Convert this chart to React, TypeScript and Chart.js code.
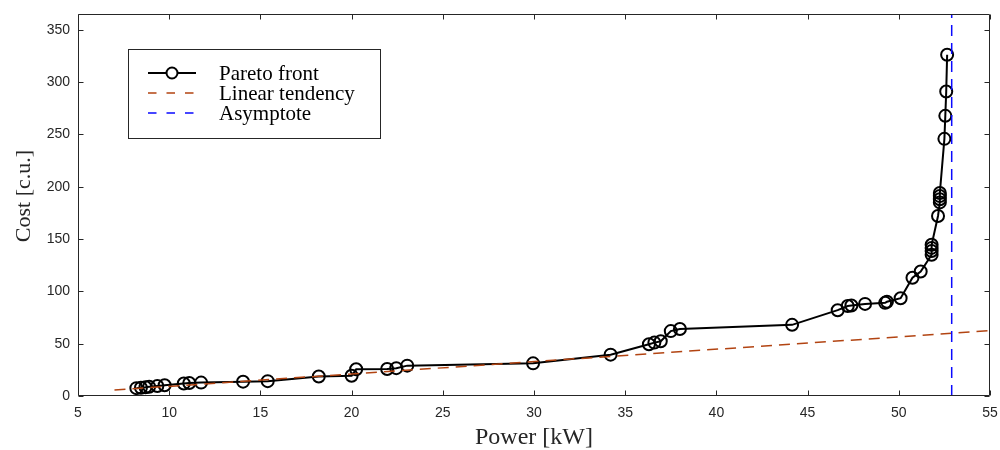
import { useEffect, useRef } from 'react';
import { Chart, registerables } from 'chart.js';

Chart.register(...registerables);

const power = [8.2, 8.45, 8.7, 8.9, 9.35, 9.75, 10.8, 11.1, 11.75, 14.05, 15.4, 18.2, 20.0, 20.25, 21.95, 22.45, 23.05, 29.95, 34.2, 36.3, 36.6, 36.95, 37.5, 38.0, 44.15, 46.65, 47.2, 47.4, 48.15, 49.25, 49.35, 50.1, 50.75, 51.2, 51.8, 51.8, 51.8, 51.8, 52.15, 52.25, 52.25, 52.25, 52.25, 52.5, 52.55, 52.6, 52.65];
const cost = [7.5, 7.9, 8.3, 8.8, 9.6, 10.3, 12.0, 12.4, 12.8, 13.7, 14.2, 18.6, 19.3, 25.5, 25.8, 26.6, 29.0, 31.2, 39.5, 49.4, 51.0, 52.3, 62.0, 64.0, 68.0, 82.0, 86.0, 86.5, 88.0, 89.0, 90.0, 93.4, 113.0, 119.0, 135.0, 138.5, 141.5, 144.5, 172.0, 185.0, 188.0, 191.0, 194.0, 245.7, 267.7, 291.0, 326.0];

const trendPower = [7, 55];
const trendCost = [5.7, 62.4];

const asymptotePower = [52.9, 52.9];
const asymptoteCost = [0, 365];

const xTicks = [5, 10, 15, 20, 25, 30, 35, 40, 45, 50, 55];
const yTicks = [0, 50, 100, 150, 200, 250, 300, 350];

const seriesLabels = ['Pareto front', 'Linear tendency', 'Asymptote'];
const xTitle = 'Power [kW]';
const yTitle = 'Cost [c.u.]';

const AXIS_COLOR = '#262626';
const TREND_COLOR = 'rgb(178,68,18)';
const ASYM_COLOR = 'rgb(10,10,255)';

const framePlugin = {
  id: 'frame',
  afterDraw(chart: any) {
    const { ctx, chartArea: a, scales } = chart;
    const L = Math.round(a.left) + 0.5;
    const R = Math.round(a.right) - 0.5;
    const T = Math.round(a.top) + 0.5;
    const B = Math.round(a.bottom) - 0.5;
    ctx.save();
    ctx.strokeStyle = AXIS_COLOR;
    ctx.lineWidth = 1;
    ctx.beginPath();
    ctx.rect(L, T, R - L, B - T);
    ctx.stroke();
    const tl = 5;
    ctx.beginPath();
    xTicks.forEach((v) => {
      const px = Math.round(scales.x.getPixelForValue(v)) + 0.5;
      ctx.moveTo(px, B);
      ctx.lineTo(px, B - tl);
      ctx.moveTo(px, T);
      ctx.lineTo(px, T + tl);
    });
    yTicks.forEach((v) => {
      const py = Math.round(scales.y.getPixelForValue(v)) + 0.5;
      ctx.moveTo(L, py);
      ctx.lineTo(L + tl, py);
      ctx.moveTo(R, py);
      ctx.lineTo(R - tl, py);
    });
    ctx.stroke();

    // axis titles
    ctx.fillStyle = AXIS_COLOR;
    ctx.textAlign = 'center';
    ctx.textBaseline = 'alphabetic';
    ctx.font = '24px "Liberation Serif"';
    ctx.fillText(xTitle, (a.left + a.right) / 2, 444);
    ctx.save();
    ctx.translate(30, 196);
    ctx.rotate(-Math.PI / 2);
    ctx.font = '22px "Liberation Serif"';
    ctx.fillText(yTitle, 0, 0);
    ctx.restore();

    // legend
    const bx = 128.5, by = 49.5, bw = 252, bh = 89;
    ctx.fillStyle = '#ffffff';
    ctx.fillRect(bx, by, bw, bh);
    ctx.strokeStyle = AXIS_COLOR;
    ctx.lineWidth = 1;
    ctx.strokeRect(bx, by, bw, bh);
    const rows = [73, 93, 113];
    const ds = chart.data.datasets;
    rows.forEach((ry, i) => {
      const d = ds[i];
      ctx.save();
      ctx.strokeStyle = d.borderColor;
      ctx.lineWidth = i === 0 ? 2 : 1.5;
      ctx.setLineDash(i === 0 ? [] : [8.5, 10]);
      ctx.beginPath();
      ctx.moveTo(148, ry);
      ctx.lineTo(196, ry);
      ctx.stroke();
      if (i === 0) {
        ctx.setLineDash([]);
        ctx.beginPath();
        ctx.arc(172, ry, 5.5, 0, Math.PI * 2);
        ctx.fillStyle = '#fff';
        ctx.fill();
        ctx.stroke();
      }
      ctx.restore();
      ctx.fillStyle = '#000';
      ctx.textAlign = 'left';
      ctx.textBaseline = 'middle';
      ctx.font = '21px "Liberation Serif"';
      ctx.fillText(d.label, 219, ry + 1);
    });
    ctx.restore();
  },
};

export default function App() {
  const ref = useRef<HTMLCanvasElement | null>(null);
  useEffect(() => {
    if (!ref.current) return;
    const chart = new Chart(ref.current, {
      type: 'scatter',
      data: {
        datasets: [
          {
            label: seriesLabels[0],
            data: power.map((p, i) => ({ x: p, y: cost[i] })),
            showLine: true,
            borderColor: '#000000',
            borderWidth: 2,
            pointRadius: 6,
            pointBorderWidth: 2,
            pointBackgroundColor: 'rgba(0,0,0,0)',
            pointBorderColor: '#000000',
            order: 3,
          },
          {
            label: seriesLabels[1],
            data: trendPower.map((p, i) => ({ x: p, y: trendCost[i] })),
            showLine: true,
            borderColor: TREND_COLOR,
            borderWidth: 1.5,
            borderDash: [11, 7],
            pointRadius: 0,
            order: 2,
          },
          {
            label: seriesLabels[2],
            data: asymptotePower.map((p, i) => ({ x: p, y: asymptoteCost[i] })),
            showLine: true,
            borderColor: ASYM_COLOR,
            borderWidth: 1.5,
            borderDash: [11, 7],
            pointRadius: 0,
            order: 1,
          },
        ],
      },
      options: {
        animation: false,
        responsive: false,
        maintainAspectRatio: false,
        layout: { padding: { top: 14, right: 10, left: 0, bottom: 0 } },
        plugins: { legend: { display: false }, tooltip: { enabled: false } },
        scales: {
          x: {
            type: 'linear',
            min: 5,
            max: 55,
            afterBuildTicks: (s: any) => {
              s.ticks = xTicks.map((v) => ({ value: v }));
            },
            afterFit: (s: any) => {
              s.height = 54;
              s.paddingLeft = 0;
              s.paddingRight = 0;
            },
            grid: { display: false, drawTicks: false },
            border: { display: false },
            ticks: {
              padding: 9,
              color: AXIS_COLOR,
              font: { family: '"Liberation Sans", Arial, sans-serif', size: 14 },
              maxRotation: 0,
            },
          },
          y: {
            type: 'linear',
            min: 0,
            max: 365,
            afterBuildTicks: (s: any) => {
              s.ticks = yTicks.map((v) => ({ value: v }));
            },
            afterFit: (s: any) => {
              s.width = 78;
              s.paddingTop = 0;
              s.paddingBottom = 0;
            },
            grid: { display: false, drawTicks: false },
            border: { display: false },
            ticks: {
              padding: 8,
              color: AXIS_COLOR,
              font: { family: '"Liberation Sans", Arial, sans-serif', size: 14 },
            },
          },
        },
      },
      plugins: [framePlugin],
    });
    return () => chart.destroy();
  }, []);
  return (
    <div style={{ position: 'fixed', left: 0, top: 0, width: 1000, height: 450, background: '#fff' }}>
      <canvas ref={ref} width={1000} height={450} style={{ width: 1000, height: 450 }} />
    </div>
  );
}
